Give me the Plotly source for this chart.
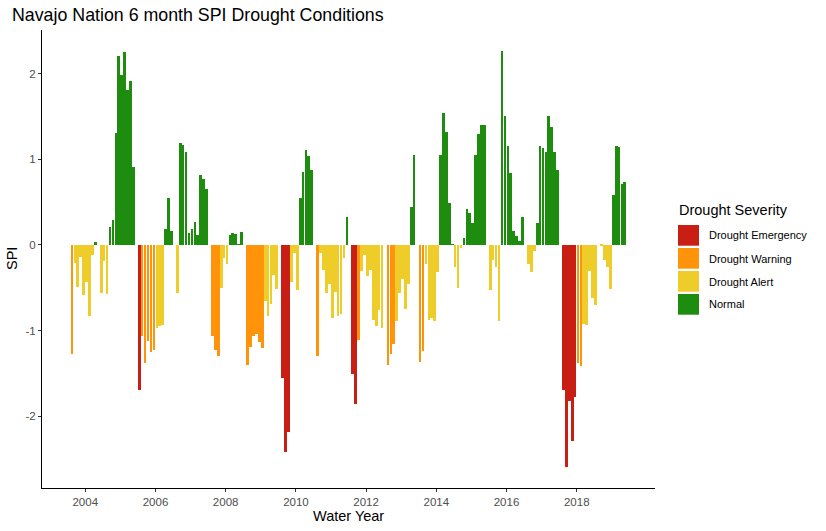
import pandas as pd
import plotly.graph_objects as go

# monthly 6-month SPI, Aug 2003 .. May 2019
spi = [
    -1.27, -0.21, -0.49, -0.14, -0.58, -0.43, -0.83, -0.12, 0.035, 0,
    -0.56, -0.19, -0.57, 0.21, 0.29, 1.31, 2.21, 1.99, 2.25, 1.81,
    1.92, 0.91, 0, -1.70, -1.06, -1.38, -1.12, -1.25, -1.23, -0.97,
    -0.95, -0.94, 0.19, 0.55, 0.16, 0, -0.56, 1.19, 1.17, 1.09,
    0.14, 0.19, 0.27, 0.11, 0.82, 0.77, 0.65, 0, -1.06, -1.23,
    -1.30, -0.50, -0.15, -0.22, 0.12, 0.14, 0.13, 0.01, 0.15, 0,
    -1.40, -1.19, -1.06, -1.04, -1.13, -1.20, -0.65, -0.83, -0.69, -0.35,
    -0.51, 0, -1.56, -2.42, -2.18, -0.43, -0.10, -0.53, 0.55, 0.85,
    1.11, 1.04, 0.88, 0, -1.30, -0.10, -0.29, -0.56, -0.46, -0.85,
    -0.55, -0.83, -0.81, -0.15, 0.33, 0, -1.51, -1.86, -1.11, -0.30,
    -0.12, -0.36, -0.29, -0.88, -0.95, -0.76, -0.97, 0, -1.40, -1.27,
    -1.16, -0.89, -0.56, -0.40, -0.75, -0.46, 0.44, 1.05, 0, -1.37,
    -1.24, -0.22, -0.88, -0.85, -0.89, -0.32, 1.05, 1.54, 1.32, 0.49,
    0.01, -0.26, -0.50, -0.035, 0.08, 0.42, 0.37, 0.25, 1.05, 1.29,
    1.40, 1.40, 0, -0.53, -0.18, -0.26, -0.89, 2.27, 1.51, 1.16,
    0.84, 0.16, 0.105, 0.05, 0.32, 0, -0.22, -0.32, -0.07, 0.26,
    1.16, 1.13, 1.09, 1.50, 1.38, 1.09, 0.87, 0, -1.70, -2.60,
    -1.82, -2.29, -1.78, -1.38, -1.42, -0.92, -0.94, -0.30, -0.62, -0.70,
    0, -0.01, -0.18, -0.26, -0.51, 0.58, 1.15, 1.14, 0.71, 0.74,
]
first_month = "2003-08-01"

title_text = "Navajo Nation 6 month SPI Drought Conditions"
severity = ["Drought Emergency", "Drought Warning", "Drought Alert", "Normal"]
colors = ["#C81E14", "#FF940A", "#EECC2A", "#1E8C0F"]
year_ticks = [2004, 2006, 2008, 2010, 2012, 2014, 2016, 2018]
spi_ticks = [-2, -1, 0, 1, 2]

dates = pd.date_range(first_month, periods=len(spi), freq="MS") + pd.Timedelta(days=14)
df = pd.DataFrame({"date": dates, "spi": spi})


def classify(v):
    if v <= -1.5:
        return "Drought Emergency"
    if v <= -1.0:
        return "Drought Warning"
    if v < 0:
        return "Drought Alert"
    return "Normal"


df["sev"] = df["spi"].apply(classify)

fig = go.Figure()
for name, col in zip(severity, colors):
    d = df[df["sev"] == name]
    fig.add_trace(go.Bar(
        x=d["date"], y=d["spi"], name=name,
        marker=dict(color=col, line=dict(width=0)),
        width=28 * 86400000, showlegend=False,
    ))

# plot area in pixels
L, R, T, B = 42, 655, 30, 488
W, H = 826, 531


def px_x(x):
    return (x - L) / (R - L)


def px_y(y):
    return (B - y) / (B - T)


font = "Liberation Sans, Arial, sans-serif"

fig.update_layout(
    width=W, height=H,
    margin=dict(l=L, r=W - R, t=T, b=H - B),
    plot_bgcolor="white", paper_bgcolor="white",
    barmode="overlay", bargap=0,
    font=dict(family=font, color="black"),
    title=dict(text=title_text,
               x=12 / W, xref="container", xanchor="left",
               y=1 - 15 / H, yref="container", yanchor="middle",
               font=dict(size=17.8, color="black")),
)

fig.update_xaxes(
    type="date", range=["2002-10-08", "2020-03-25"],
    tickvals=[f"{y}-01-01" for y in year_ticks],
    ticktext=[str(y) for y in year_ticks],
    showgrid=False, zeroline=False,
    showline=True, linecolor="black", linewidth=1,
    ticks="outside", ticklen=3, tickwidth=1, tickcolor="#333333",
    tickfont=dict(size=11.5, color="#4D4D4D"),
)
fig.update_yaxes(
    range=[-2.84, 2.51],
    tickvals=spi_ticks, ticktext=[str(t) for t in spi_ticks],
    showgrid=False, zeroline=False,
    showline=True, linecolor="black", linewidth=1,
    ticks="outside", ticklen=3, tickwidth=1, tickcolor="#333333",
    tickfont=dict(size=11.5, color="#4D4D4D"),
)

# axis titles
fig.add_annotation(text="Water Year", xref="paper", yref="paper",
                   x=0.5, y=px_y(516), showarrow=False,
                   font=dict(size=14.5, color="black"), yanchor="middle")
fig.add_annotation(text="SPI", xref="paper", yref="paper",
                   x=px_x(12), y=px_y(259), showarrow=False, textangle=-90,
                   font=dict(size=14.5, color="black"), xanchor="center")

# legend drawn by hand to match the square keys
fig.add_annotation(text="Drought Severity", xref="paper", yref="paper",
                   x=px_x(677), y=px_y(210), showarrow=False,
                   xanchor="left", yanchor="middle",
                   font=dict(size=14.5, color="black"))
key_top = 225
for i, (name, col) in enumerate(zip(severity, colors)):
    y0 = key_top + i * 23
    fig.add_shape(type="rect", xref="paper", yref="paper",
                  x0=px_x(678), x1=px_x(699), y0=px_y(y0 + 20.7), y1=px_y(y0),
                  fillcolor=col, line=dict(width=0))
    fig.add_annotation(text=name, xref="paper", yref="paper",
                       x=px_x(707), y=px_y(y0 + 10.5), showarrow=False,
                       xanchor="left", yanchor="middle",
                       font=dict(size=11, color="black"))

fig.write_html("out.html", config={"displayModeBar": False},
               post_script="document.body.style.margin='0';")
